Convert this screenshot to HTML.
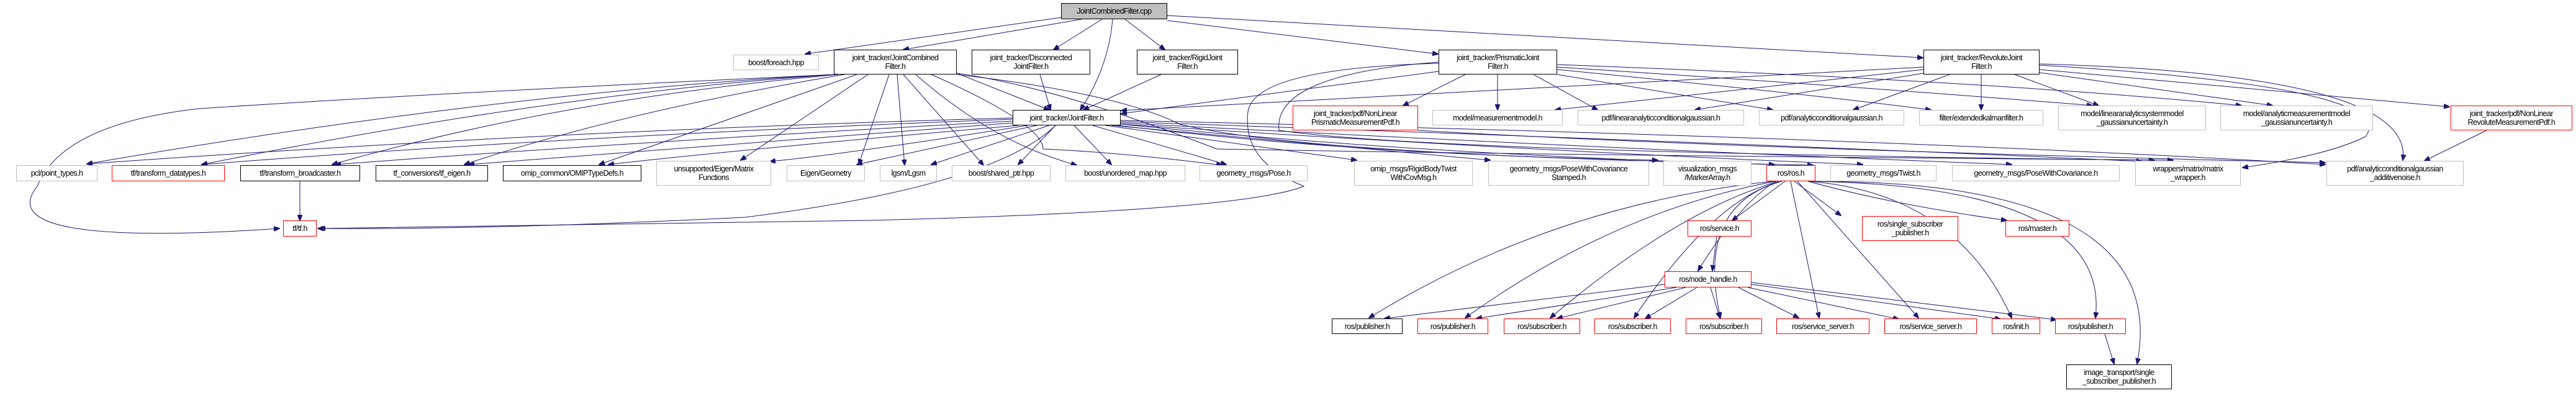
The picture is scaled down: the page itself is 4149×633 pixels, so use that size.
<!DOCTYPE html>
<html><head><meta charset="utf-8"><style>
body{margin:0;background:#fff;width:4149px;height:633px;overflow:hidden;position:relative;font-family:"Liberation Sans",sans-serif;}
.n{position:absolute;box-sizing:border-box;border:1px solid #bfbfbf;background:#fff;font-size:12.5px;line-height:14px;color:#000;display:flex;align-items:center;justify-content:center;text-align:center;white-space:nowrap;letter-spacing:-0.6px}
.k{border:1px solid #000}
.r{border:1px solid #ff0000}
.g{background:#bfbfbf;border:1px solid #000}
svg{position:absolute;left:0;top:0}
path{fill:none;stroke:#191970;stroke-width:1}
</style></head><body>
<svg width="4149" height="633" viewBox="0 0 4149 633">
<defs><marker id="a" markerWidth="10" markerHeight="8" refX="9" refY="4" orient="auto" markerUnits="userSpaceOnUse"><path d="M0,0 L10,4 L0,8 z" style="fill:#191970;stroke:#191970"/></marker></defs>
<g marker-end="url(#a)">
<path d="M1710 28 L1297 87"/>
<path d="M1742 31 L1455 80"/>
<path d="M1775 31 L1697 80"/>
<path d="M1792 31 Q1785 110 1740 177"/>
<path d="M1812 31 L1876 80"/>
<path d="M1880 33 L2316 87"/>
<path d="M1880 25 L3097 93"/>
<path d="M1345 120 Q700 150 320 175 Q100 200 60 300 Q-20 400 450 368"/>
<path d="M1343 120 Q800 150 140 264"/>
<path d="M1345 120 Q900 150 325 265"/>
<path d="M1350 120 Q900 160 535 265"/>
<path d="M1360 120 Q1000 180 748 265"/>
<path d="M1380 120 L965 265"/>
<path d="M1398 120 L1193 258"/>
<path d="M1432 120 L1383 265"/>
<path d="M1445 120 L1457 266"/>
<path d="M1455 120 L1584 266"/>
<path d="M1475 120 Q1600 230 1734 266"/>
<path d="M1500 120 Q1680 200 1680 240 Q1800 245 1968 266"/>
<path d="M1541 118 L1690 177"/>
<path d="M1541 120 Q1800 150 1900 200 Q2100 250 2920 266"/>
<path d="M1541 118 Q1700 140 1960 240 Q2500 250 3500 258"/>
<path d="M1675 120 L1692 177"/>
<path d="M1870 120 L1745 177"/>
<path d="M1631 190 Q900 210 140 264"/>
<path d="M1631 192 Q900 220 325 265"/>
<path d="M1631 195 Q1000 230 540 265"/>
<path d="M1631 198 Q1100 240 755 265"/>
<path d="M1640 202 Q1200 240 980 265"/>
<path d="M1655 202 Q1350 250 1240 260"/>
<path d="M1670 202 L1380 265"/>
<path d="M1690 202 L1500 265"/>
<path d="M1700 202 L1640 265"/>
<path d="M1730 202 L1790 265"/>
<path d="M1760 202 L1975 265"/>
<path d="M1780 202 L2185 258"/>
<path d="M1790 202 L2400 258"/>
<path d="M1800 202 Q2200 250 2670 258"/>
<path d="M1805 200 Q2300 250 2858 265"/>
<path d="M1805 200 Q2500 245 3000 265"/>
<path d="M1805 198 Q2600 240 3240 265"/>
<path d="M1805 196 Q2800 230 3450 260"/>
<path d="M1805 194 Q3000 220 3745 265"/>
<path d="M1700 202 Q1600 300 1200 350 Q800 370 512 368"/>
<path d="M2317 115 L1806 183"/>
<path d="M2360 120 L2260 170"/>
<path d="M2412 120 L2412 177"/>
<path d="M2470 120 L2573 177"/>
<path d="M2508 120 L2855 177"/>
<path d="M2508 112 Q2900 150 3110 177"/>
<path d="M2508 108 Q3000 140 3370 170"/>
<path d="M2508 104 Q3200 130 3610 170"/>
<path d="M2317 102 Q2020 110 2010 180 Q2000 260 2100 300 Q2000 340 1400 355 Q800 365 515 368"/>
<path d="M2317 100 Q2050 120 2060 210 Q2300 245 3470 258"/>
<path d="M3098 108 L1806 178"/>
<path d="M3098 112 L2505 177"/>
<path d="M3098 118 L2730 177"/>
<path d="M3140 120 L2985 177"/>
<path d="M3191 120 L3191 177"/>
<path d="M3245 120 L3380 170"/>
<path d="M3285 117 L3660 170"/>
<path d="M3285 112 L3945 172"/>
<path d="M3285 105 Q3870 140 3810 220 Q3750 250 3612 270"/>
<path d="M3285 103 Q3890 120 3870 258"/>
<path d="M2284 210 Q2800 240 3745 262"/>
<path d="M4005 210 L3905 259"/>
<path d="M483 292 L483 355"/>
<path d="M2855 292 Q2500 330 2205 512"/>
<path d="M2860 292 Q2600 340 2360 512"/>
<path d="M2865 292 Q2700 340 2497 512"/>
<path d="M2870 292 Q2760 320 2632 512"/>
<path d="M2870 292 Q2730 330 2771 512"/>
<path d="M2875 292 L2790 355"/>
<path d="M2860 292 Q2800 330 2735 436"/>
<path d="M2890 292 L2965 347"/>
<path d="M2912 292 Q3050 330 3232 355"/>
<path d="M2884 292 L2930 512"/>
<path d="M2895 292 L3090 512"/>
<path d="M2912 292 Q3150 310 3240 512"/>
<path d="M2915 292 Q3400 300 3375 512"/>
<path d="M2915 292 Q3500 290 3442 586"/>
<path d="M2765 381 L2758 436"/>
<path d="M2681 458 L2230 513"/>
<path d="M2700 463 L2378 513"/>
<path d="M2715 463 L2508 513"/>
<path d="M2733 463 L2650 513"/>
<path d="M2755 463 L2770 512"/>
<path d="M2800 463 L2897 512"/>
<path d="M2815 463 L3058 514"/>
<path d="M2821 458 L3222 514"/>
<path d="M2821 455 L3312 515"/>
<path d="M3390 538 L3405 586"/>
</g>
</svg>
<div class="n g" style="left:1709px;top:5px;width:171px;height:26px">JointCombinedFilter.cpp</div>
<div class="n" style="left:1181px;top:88px;width:138px;height:25px">boost/foreach.hpp</div>
<div class="n k" style="left:1343px;top:80px;width:198px;height:40px">joint_tracker/JointCombined<br>Filter.h</div>
<div class="n k" style="left:1565px;top:80px;width:191px;height:40px">joint_tracker/Disconnected<br>JointFilter.h</div>
<div class="n k" style="left:1831px;top:80px;width:163px;height:40px">joint_tracker/RigidJoint<br>Filter.h</div>
<div class="n k" style="left:2317px;top:80px;width:191px;height:40px">joint_tracker/PrismaticJoint<br>Filter.h</div>
<div class="n k" style="left:3098px;top:80px;width:187px;height:40px">joint_tracker/RevoluteJoint<br>Filter.h</div>
<div class="n k" style="left:1631px;top:177px;width:174px;height:25px">joint_tracker/JointFilter.h</div>
<div class="n r" style="left:2082px;top:170px;width:202px;height:40px">joint_tracker/pdf/NonLinear<br>PrismaticMeasurementPdf.h</div>
<div class="n" style="left:2307px;top:177px;width:210px;height:25px">model/measurementmodel.h</div>
<div class="n" style="left:2541px;top:177px;width:268px;height:25px">pdf/linearanalyticconditionalgaussian.h</div>
<div class="n" style="left:2833px;top:177px;width:234px;height:25px">pdf/analyticconditionalgaussian.h</div>
<div class="n" style="left:3091px;top:177px;width:200px;height:25px">filter/extendedkalmanfilter.h</div>
<div class="n" style="left:3315px;top:170px;width:238px;height:40px">model/linearanalyticsystemmodel<br>_gaussianuncertainty.h</div>
<div class="n" style="left:3576px;top:170px;width:246px;height:40px">model/analyticmeasurementmodel<br>_gaussianuncertainty.h</div>
<div class="n r" style="left:3947px;top:170px;width:196px;height:40px">joint_tracker/pdf/NonLinear<br>RevoluteMeasurementPdf.h</div>
<div class="n" style="left:26px;top:266px;width:131px;height:26px">pcl/point_types.h</div>
<div class="n r" style="left:180px;top:266px;width:182px;height:26px">tf/transform_datatypes.h</div>
<div class="n k" style="left:387px;top:266px;width:193px;height:26px">tf/transform_broadcaster.h</div>
<div class="n k" style="left:605px;top:266px;width:181px;height:26px">tf_conversions/tf_eigen.h</div>
<div class="n k" style="left:810px;top:266px;width:223px;height:26px">omip_common/OMIPTypeDefs.h</div>
<div class="n" style="left:1057px;top:259px;width:185px;height:40px">unsupported/Eigen/Matrix<br>Functions</div>
<div class="n" style="left:1267px;top:266px;width:126px;height:26px">Eigen/Geometry</div>
<div class="n" style="left:1417px;top:266px;width:92px;height:26px">lgsm/Lgsm</div>
<div class="n" style="left:1533px;top:266px;width:159px;height:26px">boost/shared_ptr.hpp</div>
<div class="n" style="left:1716px;top:266px;width:193px;height:26px">boost/unordered_map.hpp</div>
<div class="n" style="left:1932px;top:266px;width:174px;height:26px">geometry_msgs/Pose.h</div>
<div class="n" style="left:2181px;top:259px;width:191px;height:40px">omip_msgs/RigidBodyTwist<br>WithCovMsg.h</div>
<div class="n" style="left:2397px;top:259px;width:259px;height:40px">geometry_msgs/PoseWithCovariance<br>Stamped.h</div>
<div class="n" style="left:2679px;top:259px;width:142px;height:40px">visualization_msgs<br>/MarkerArray.h</div>
<div class="n r" style="left:2845px;top:266px;width:79px;height:26px">ros/ros.h</div>
<div class="n" style="left:2948px;top:266px;width:171px;height:26px">geometry_msgs/Twist.h</div>
<div class="n" style="left:3144px;top:266px;width:270px;height:26px">geometry_msgs/PoseWithCovariance.h</div>
<div class="n" style="left:3439px;top:259px;width:170px;height:40px">wrappers/matrix/matrix<br>_wrapper.h</div>
<div class="n" style="left:3747px;top:259px;width:221px;height:40px">pdf/analyticconditionalgaussian<br>_additivenoise.h</div>
<div class="n r" style="left:456px;top:355px;width:54px;height:26px">tf/tf.h</div>
<div class="n r" style="left:2718px;top:355px;width:103px;height:26px">ros/service.h</div>
<div class="n r" style="left:2999px;top:348px;width:155px;height:40px">ros/single_subscriber<br>_publisher.h</div>
<div class="n r" style="left:3230px;top:355px;width:103px;height:26px">ros/master.h</div>
<div class="n r" style="left:2681px;top:437px;width:140px;height:26px">ros/node_handle.h</div>
<div class="n k" style="left:2145px;top:513px;width:114px;height:25px">ros/publisher.h</div>
<div class="n r" style="left:2283px;top:513px;width:114px;height:25px">ros/publisher.h</div>
<div class="n r" style="left:2422px;top:513px;width:123px;height:25px">ros/subscriber.h</div>
<div class="n r" style="left:2568px;top:513px;width:123px;height:25px">ros/subscriber.h</div>
<div class="n r" style="left:2715px;top:513px;width:123px;height:25px">ros/subscriber.h</div>
<div class="n r" style="left:2861px;top:513px;width:150px;height:25px">ros/service_server.h</div>
<div class="n r" style="left:3035px;top:513px;width:149px;height:25px">ros/service_server.h</div>
<div class="n r" style="left:3208px;top:513px;width:78px;height:25px">ros/init.h</div>
<div class="n r" style="left:3310px;top:513px;width:114px;height:25px">ros/publisher.h</div>
<div class="n k" style="left:3328px;top:587px;width:170px;height:40px">image_transport/single<br>_subscriber_publisher.h</div>
</body></html>
